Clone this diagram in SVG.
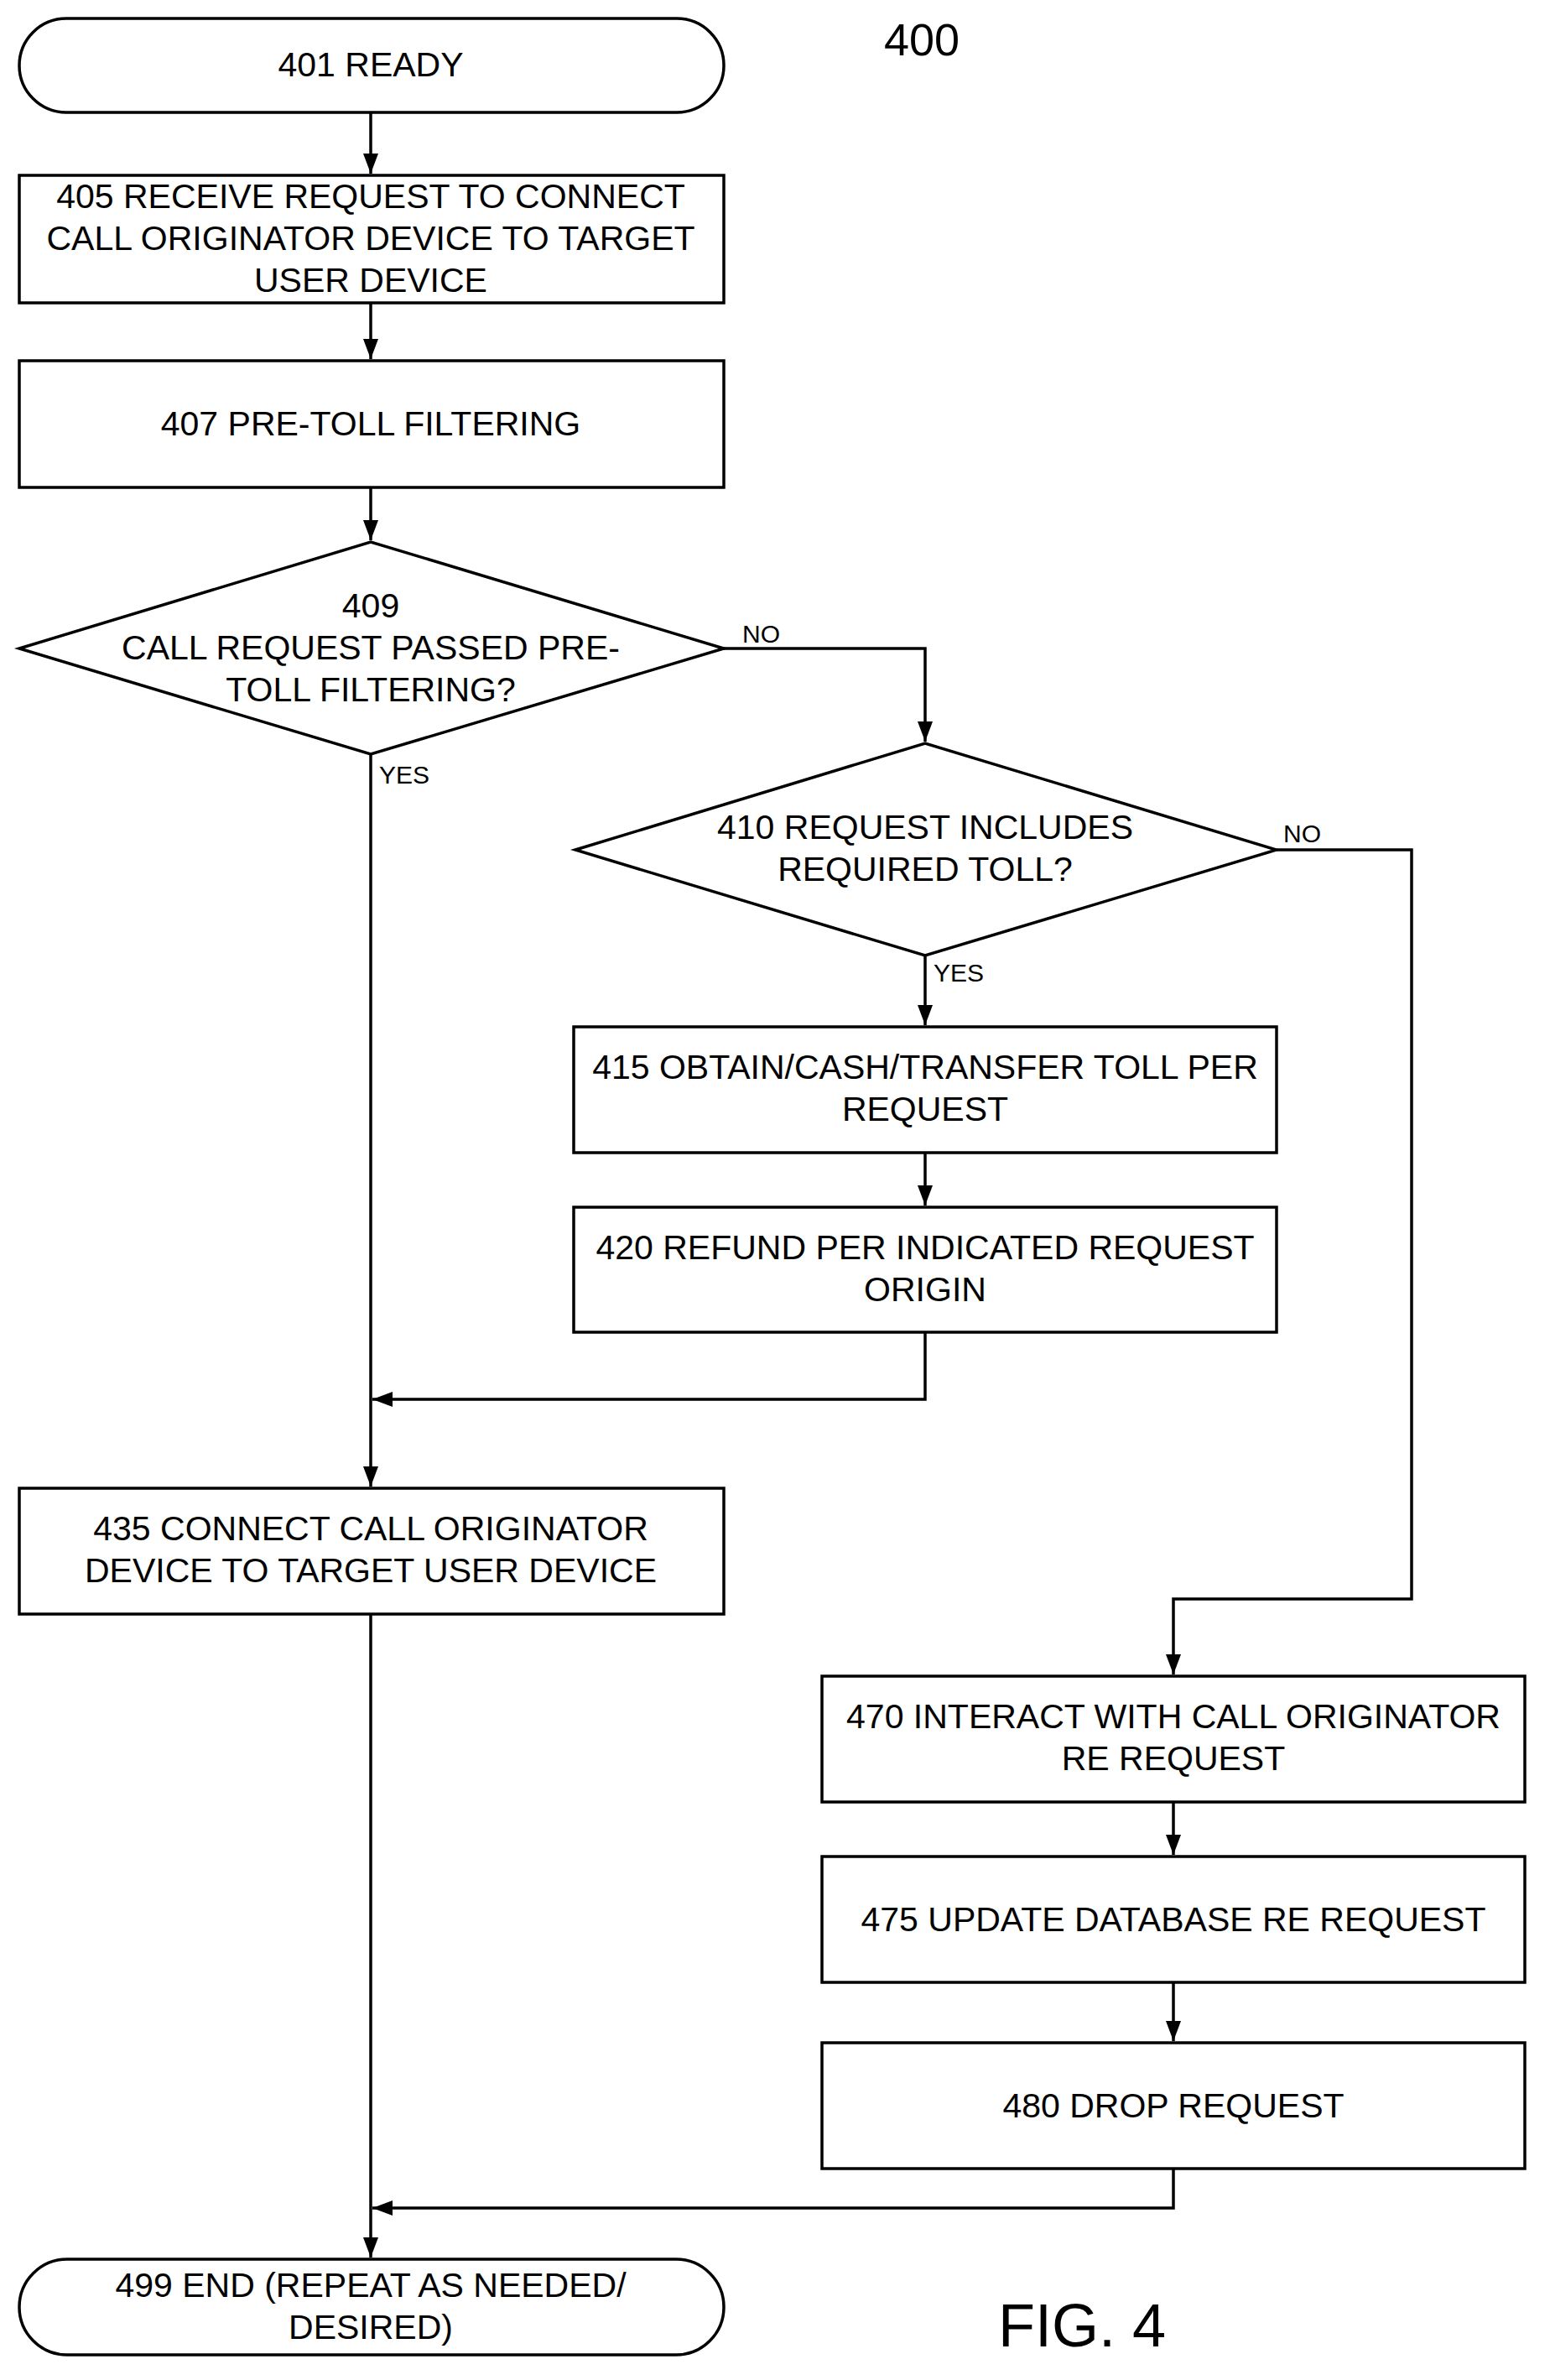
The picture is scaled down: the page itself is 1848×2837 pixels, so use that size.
<svg xmlns="http://www.w3.org/2000/svg" width="1848" height="2837" viewBox="0 0 1848 2837">
<style>
.n{fill:#fff;stroke:#000;stroke-width:3.5}
.t{font-family:"Liberation Sans",Arial,sans-serif;font-size:41px;fill:#000;text-anchor:middle}
.s{font-family:"Liberation Sans",Arial,sans-serif;font-size:30px;fill:#000}
.c{fill:none;stroke:#000;stroke-width:3.5}
</style>
<defs>
<marker id="a" markerUnits="userSpaceOnUse" markerWidth="26" markerHeight="20" refX="24" refY="9" orient="auto">
<path d="M0,0 L24,9 L0,18 z" fill="#000"/>
</marker>
</defs>
<rect width="1848" height="2837" fill="#fff"/>
<text class="t" x="1099" y="66" style="font-size:54px">400</text>
<text class="t" x="1290" y="2797" style="font-size:72px">FIG. 4</text>
<g id="n401"><rect class="n" x="23" y="22" width="840" height="112" rx="56"/><text class="t" x="442" y="91">401 READY</text></g>
<g id="n405"><rect class="n" x="23" y="209" width="840" height="152"/><text class="t" x="442" y="248">405 RECEIVE REQUEST TO CONNECT</text><text class="t" x="442" y="298">CALL ORIGINATOR DEVICE TO TARGET</text><text class="t" x="442" y="348">USER DEVICE</text></g>
<g id="n407"><rect class="n" x="23" y="430" width="840" height="151"/><text class="t" x="442" y="519">407 PRE-TOLL FILTERING</text></g>
<g id="n409"><polygon class="n" points="23,773 442,646 863,773 442,899"/><text class="t" x="442" y="736">409</text><text class="t" x="442" y="786">CALL REQUEST PASSED PRE-</text><text class="t" x="442" y="836">TOLL FILTERING?</text></g>
<g id="n410"><polygon class="n" points="686,1013 1103,886 1522,1013 1103,1139"/><text class="t" x="1103" y="1000">410 REQUEST INCLUDES</text><text class="t" x="1103" y="1050">REQUIRED TOLL?</text></g>
<g id="n415"><rect class="n" x="684" y="1224" width="838" height="150"/><text class="t" x="1103" y="1286">415 OBTAIN/CASH/TRANSFER TOLL PER</text><text class="t" x="1103" y="1336">REQUEST</text></g>
<g id="n420"><rect class="n" x="684" y="1439" width="838" height="149"/><text class="t" x="1103" y="1501">420 REFUND PER INDICATED REQUEST</text><text class="t" x="1103" y="1551">ORIGIN</text></g>
<g id="n435"><rect class="n" x="23" y="1774" width="840" height="150"/><text class="t" x="442" y="1836">435 CONNECT CALL ORIGINATOR</text><text class="t" x="442" y="1886">DEVICE TO TARGET USER DEVICE</text></g>
<g id="n470"><rect class="n" x="980" y="1998" width="838" height="150"/><text class="t" x="1399" y="2060">470 INTERACT WITH CALL ORIGINATOR</text><text class="t" x="1399" y="2110">RE REQUEST</text></g>
<g id="n475"><rect class="n" x="980" y="2213" width="838" height="150"/><text class="t" x="1399" y="2302">475 UPDATE DATABASE RE REQUEST</text></g>
<g id="n480"><rect class="n" x="980" y="2435" width="838" height="150"/><text class="t" x="1399" y="2524">480 DROP REQUEST</text></g>
<g id="n499"><rect class="n" x="23" y="2693" width="840" height="114" rx="57"/><text class="t" x="442" y="2738">499 END (REPEAT AS NEEDED/</text><text class="t" x="442" y="2788">DESIRED)</text></g>
<g id="connectors">
<path class="c" d="M442,134 V207" marker-end="url(#a)"/>
<path class="c" d="M442,361 V428" marker-end="url(#a)"/>
<path class="c" d="M442,581 V644" marker-end="url(#a)"/>
<path class="c" d="M863,773 H1103 V884" marker-end="url(#a)"/>
<path class="c" d="M442,899 V1772" marker-end="url(#a)"/>
<path class="c" d="M1522,1013 H1683 V1906 H1399 V1996" marker-end="url(#a)"/>
<path class="c" d="M1103,1139 V1222" marker-end="url(#a)"/>
<path class="c" d="M1103,1374 V1437" marker-end="url(#a)"/>
<path class="c" d="M1103,1588 V1668 H444" marker-end="url(#a)"/>
<path class="c" d="M1399,2148 V2211" marker-end="url(#a)"/>
<path class="c" d="M1399,2363 V2433" marker-end="url(#a)"/>
<path class="c" d="M1399,2585 V2632 H444" marker-end="url(#a)"/>
<path class="c" d="M442,1924 V2691" marker-end="url(#a)"/>
<text class="s" x="885" y="766">NO</text>
<text class="s" x="452" y="934">YES</text>
<text class="s" x="1530" y="1004">NO</text>
<text class="s" x="1113" y="1170">YES</text>
</g>
</svg>
